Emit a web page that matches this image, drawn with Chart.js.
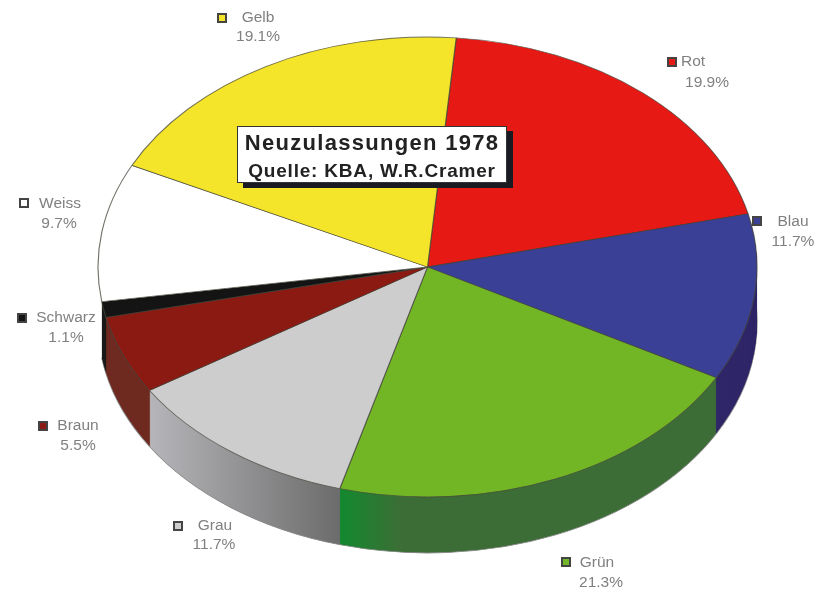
<!DOCTYPE html>
<html>
<head>
<meta charset="utf-8">
<script src="https://cdn.jsdelivr.net/npm/chart.js@4"></script>
<style>
    html, body { margin: 0; padding: 0; background: #fff; }
    /* the reference is a soft, low quality scan */
    canvas { display: block; filter: blur(0.5px); }
</style>
</head>
<body>
<canvas id="chart" width="820" height="592"></canvas>
<script>
    // data
    const categories = ['Rot', 'Blau', 'Grün', 'Grau', 'Braun', 'Schwarz', 'Weiss', 'Gelb'];
    const shares = [19.9, 11.7, 21.3, 11.7, 5.5, 1.1, 9.7, 19.1];
    const shareLabels = ['19.9%', '11.7%', '21.3%', '11.7%', '5.5%', '1.1%', '9.7%', '19.1%'];
    const titleLines = ['Neuzulassungen 1978', 'Quelle: KBA, W.R.Cramer'];

    // colours
    const topColors = ['#e61915', '#3a4096', '#72b626', '#cdcdcd', '#8a1a12', '#141414', '#ffffff', '#f5e52a'];
    const sideRamps = [
        ['#8a0f0c'],
        ['#2f2668'],
        ['#12892e', '#3d6d36', '#3d6d36', '#3d6d36', '#3d6d36', '#3d6d36', '#3d6d36'],
        ['#b6b6ba', '#6c6c6c'],
        ['#6f2a20'],
        ['#1a1a1a'],
        ['#ffffff'],
        ['#c9bb10']
    ];

    // layout of the tilted pie
    const PIE = { cx: 427.5, cy: 267, rx: 329.5, ry: 230, depth: 56 };
    // [marker x, marker y, name x, name y, share x, share y]
    const labelSpots = [
        [672, 62, 693, 62, 707, 83],
        [757, 221, 793, 222, 793, 242],
        [566, 562, 597, 563, 601, 583],
        [178, 526, 215, 526, 214, 545],
        [43, 426, 78, 426, 78, 446],
        [22, 318, 66, 318, 66, 338],
        [24, 203, 60, 204, 59, 224],
        [222, 18, 258, 18, 258, 37]
    ];

    // squash the round pie into the ellipse, shift is the depth below the top face
    function tilt(chart, ctx, shift) {
        const el = chart.getDatasetMeta(0).data[0];
        ctx.translate(PIE.cx, PIE.cy + shift);
        ctx.scale(PIE.rx / el.outerRadius, PIE.ry / el.outerRadius);
        ctx.translate(-el.x, -el.y);
    }

    function sideFill(ctx, el, ramp) {
        if (ramp.length === 1) return ramp[0];
        const x1 = el.x + el.outerRadius * Math.cos(el.startAngle);
        const x2 = el.x + el.outerRadius * Math.cos(el.endAngle);
        const g = ctx.createLinearGradient(Math.min(x1, x2), 0, Math.max(x1, x2), 0);
        ramp.forEach((c, i) => g.addColorStop(i / (ramp.length - 1), c));
        return g;
    }

    const pie3d = {
        id: 'pie3d',
        beforeDatasetsDraw(chart) {
            const ctx = chart.ctx;
            const arcs = chart.getDatasetMeta(0).data;
            // side wall: the same slices stacked from the bottom up
            for (let d = PIE.depth; d >= 1; d--) {
                ctx.save();
                tilt(chart, ctx, d);
                arcs.forEach((el, i) => {
                    ctx.beginPath();
                    ctx.moveTo(el.x, el.y);
                    ctx.arc(el.x, el.y, el.outerRadius, el.startAngle, el.endAngle);
                    ctx.closePath();
                    ctx.fillStyle = sideFill(ctx, el, sideRamps[i]);
                    ctx.fill();
                    // no rim on the white slice, its wall stays invisible
                    if (d === PIE.depth && categories[i] !== 'Weiss') {
                        ctx.beginPath();
                        ctx.arc(el.x, el.y, el.outerRadius, el.startAngle, el.endAngle);
                        ctx.strokeStyle = '#888';
                        ctx.lineWidth = 1;
                        ctx.stroke();
                    }
                });
                ctx.restore();
            }
            ctx.save();
            tilt(chart, ctx, 0);
        },
        afterDatasetsDraw(chart) {
            chart.ctx.restore();
        },
        afterDraw(chart) {
            const ctx = chart.ctx;
            ctx.save();
            ctx.textAlign = 'center';
            ctx.textBaseline = 'middle';

            // slice labels with their colour marker
            categories.forEach((name, i) => {
                const s = labelSpots[i];
                ctx.fillStyle = topColors[i];
                ctx.strokeStyle = '#444';
                ctx.lineWidth = 2;
                ctx.fillRect(s[0] - 4, s[1] - 4, 8, 8);
                ctx.strokeRect(s[0] - 4, s[1] - 4, 8, 8);
                ctx.fillStyle = '#808080';
                ctx.font = '15.5px "Liberation Sans"';
                ctx.fillText(name, s[2], s[3]);
                ctx.fillText(shareLabels[i], s[4], s[5]);
            });

            // title box
            ctx.fillStyle = '#1a1a22';
            ctx.fillRect(243, 131, 270, 57);
            ctx.fillStyle = '#fff';
            ctx.strokeStyle = '#333';
            ctx.lineWidth = 1;
            ctx.fillRect(237.5, 126.5, 269, 56);
            ctx.strokeRect(237.5, 126.5, 269, 56);
            ctx.fillStyle = '#222';
            ctx.font = 'bold 22px "Liberation Sans"';
            ctx.letterSpacing = '1.3px';
            ctx.fillText(titleLines[0], 372, 144);
            ctx.font = 'bold 19px "Liberation Sans"';
            ctx.letterSpacing = '0.8px';
            ctx.fillText(titleLines[1], 372, 172);
            ctx.restore();
        }
    };

    new Chart(document.getElementById('chart'), {
        type: 'pie',
        data: {
            labels: categories,
            datasets: [{
                data: shares,
                backgroundColor: topColors,
                borderColor: 'rgba(70, 70, 60, 0.75)',
                borderWidth: 1,
                clip: false
            }]
        },
        options: {
            responsive: false,
            animation: false,
            rotation: 5,
            layout: { padding: 10 },
            plugins: { legend: { display: false }, tooltip: { enabled: false } }
        },
        plugins: [pie3d]
    });
</script>
</body>
</html>
